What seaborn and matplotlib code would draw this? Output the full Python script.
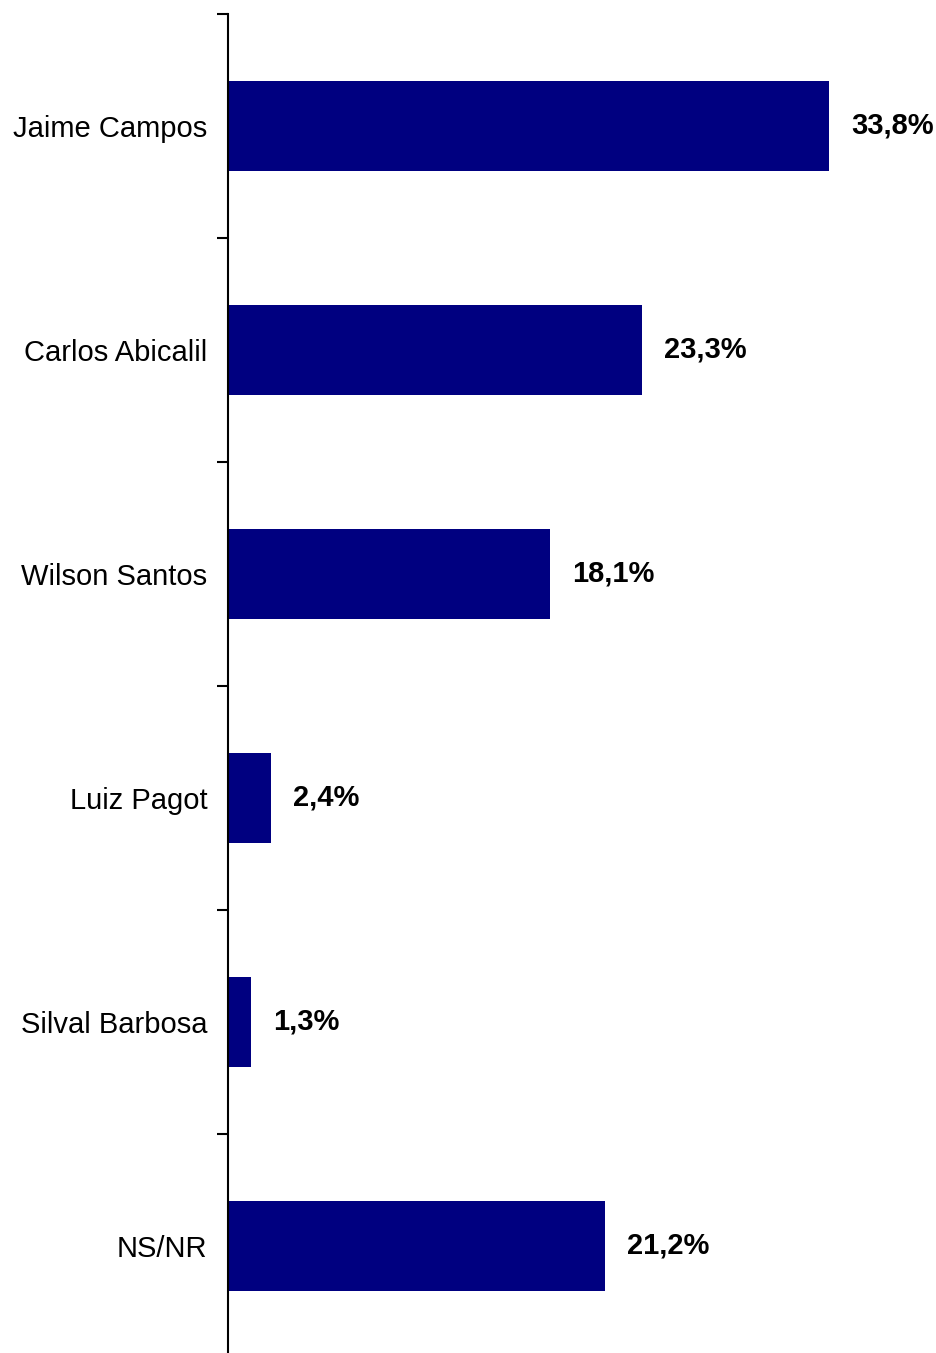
import matplotlib
matplotlib.use("Agg")
import matplotlib.pyplot as plt
import seaborn as sns
import pandas as pd

# Data
candidates = ["Jaime Campos", "Carlos Abicalil", "Wilson Santos",
              "Luiz Pagot", "Silval Barbosa", "NS/NR"]
percent = [33.8, 23.3, 18.1, 2.4, 1.3, 21.2]

df = pd.DataFrame({"Candidato": candidates, "Percentual": percent})

sns.set_theme(style="white")
plt.rcParams['font.family'] = ['Liberation Sans', 'DejaVu Sans']

W, H = 937, 1353
fig = plt.figure(figsize=(W / 100, H / 100), dpi=100)

# axes: spine at x=228, top at y=14, six bands of 224 px
band = 224
left_px, top_px = 228, 14
ax_w_px = 700
ax = fig.add_axes([left_px / W, (H - top_px - 6 * band) / H,
                   ax_w_px / W, 6 * band / H])

sns.barplot(data=df, y="Candidato", x="Percentual", orient="h",
            color="#000080", width=0.4, saturation=1, linewidth=0, ax=ax)

px_per_unit = 601 / 33.8
ax.set_xlim(0, ax_w_px / px_per_unit)
ax.set_ylim(5.5, -0.5)

# value labels
for i, v in enumerate(percent):
    ax.text(v + 22 / px_per_unit, i, f"{v:.1f}".replace(".", ",") + "%",
            va="center", ha="left", fontsize=21, fontweight="bold",
            color="black")

# ticks on band boundaries, labels at centres
ax.set_yticks([i - 0.5 for i in range(6)])
ax.set_yticklabels([])
ax.set_yticks(range(6), minor=True)
ax.set_yticklabels(candidates, minor=True, fontsize=21, color="black")
ax.tick_params(axis="y", which="major", length=8, width=1.5,
               direction="out", left=True, color="black")
ax.tick_params(axis="y", which="minor", length=0, pad=15, labelcolor="black")
ax.set_xticks([])
ax.set_xlabel("")
ax.set_ylabel("")

for s in ["top", "right", "bottom"]:
    ax.spines[s].set_visible(False)
ax.spines["left"].set_color("black")
ax.spines["left"].set_linewidth(1.5)

fig.savefig("out.png", dpi=100, facecolor="white")
